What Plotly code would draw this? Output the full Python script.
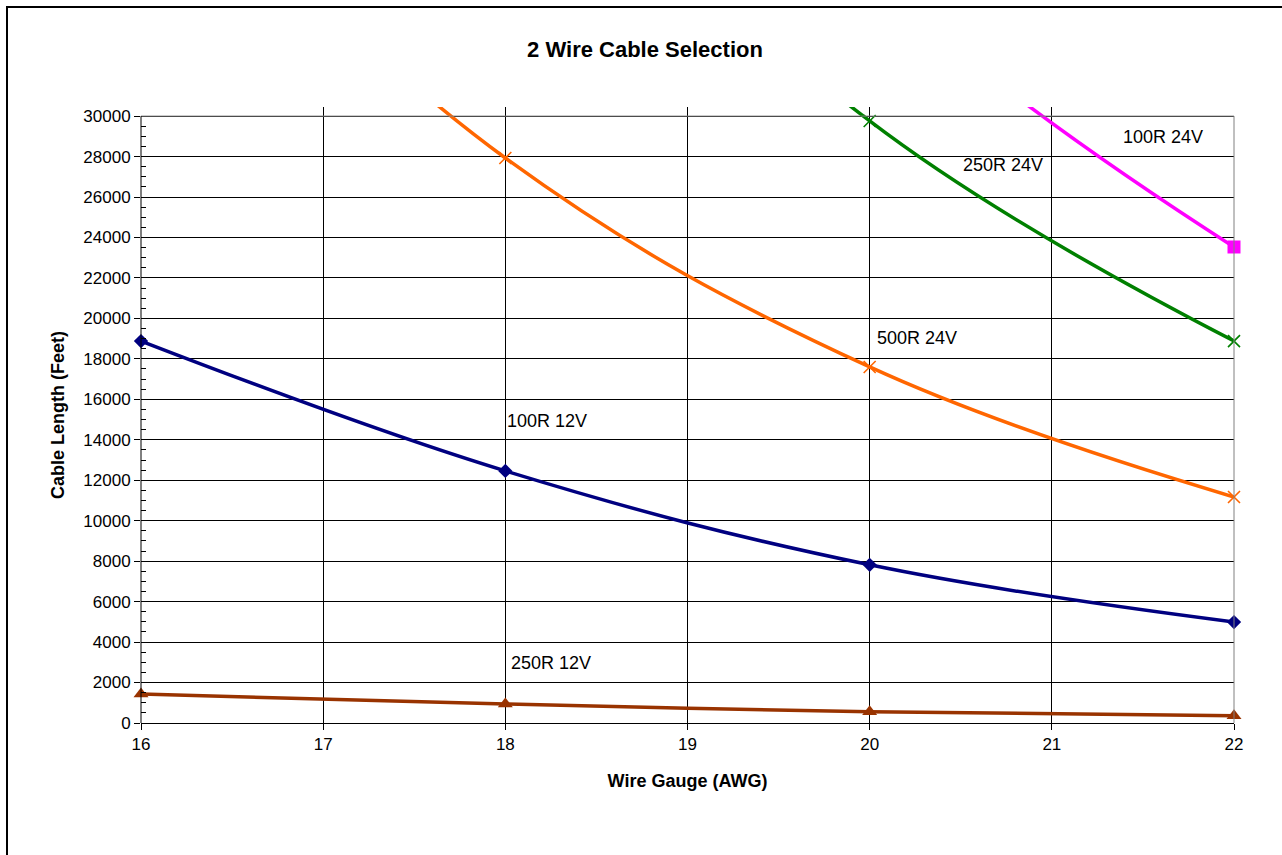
import plotly.graph_objects as go

# ---- data ----
gauge = [16, 18, 20, 22]
series_names = ["100R 12V", "250R 12V", "500R 24V", "250R 24V", "100R 24V"]
len_100r_12v = [18880, 12460, 7820, 4990]
len_250r_12v = [1430, 940, 560, 360]
len_500r_24v = [44300, 27930, 17600, 11170]
len_250r_24v = [74000, 46900, 29760, 18880]
len_100r_24v = [None, 58500, 37000, 23530]

x_ticks = [16, 17, 18, 19, 20, 21, 22]
y_ticks = list(range(0, 30001, 2000))
Y_MAX = 30000

W, H = 1282, 855
ML, MR, MT, MB = 141, 48, 107, 132
Y_TOP = 30450
FONT = "Liberation Sans, Arial, sans-serif"

pw = W - ML - MR
ph = H - MT - MB


def px_x(p):
    return (p - ML) / pw


def px_y(p):
    return (H - MB - p) / ph


styles = [
    dict(color="#000080", symbol="diamond", size=11, lw=0),
    dict(color="#993300", symbol="triangle-up", size=13, lw=0),
    dict(color="#FF6600", symbol="x-thin", size=12, lw=1.6),
    dict(color="#008000", symbol="x-thin", size=12, lw=1.6),
    dict(color="#FF00FF", symbol="square", size=13, lw=0),
]
values = [len_100r_12v, len_250r_12v, len_500r_24v, len_250r_24v, len_100r_24v]

fig = go.Figure()
for name, vals, st in zip(series_names, values, styles):
    # smoothed line (clipped to plot area)
    fig.add_trace(go.Scatter(
        x=gauge, y=vals, name=name, mode="lines",
        line=dict(color=st["color"], width=3.5, shape="spline", smoothing=1.1),
        connectgaps=False, hoverinfo="skip",
    ))
    # markers for points inside the visible range, not clipped at the frame
    mx = [g for g, v in zip(gauge, vals) if v is not None and v <= Y_MAX]
    my = [v for v in vals if v is not None and v <= Y_MAX]
    fig.add_trace(go.Scatter(
        x=mx, y=my, name=name, mode="markers",
        marker=dict(symbol=st["symbol"], size=st["size"], color=st["color"],
                    line=dict(color=st["color"], width=st["lw"])),
        cliponaxis=False,
    ))

labels = [
    ("100R 24V", 21.61, 28950),
    ("250R 24V", 20.73, 27600),
    ("500R 24V", 20.26, 19050),
    ("100R 12V", 18.23, 14950),
    ("250R 12V", 18.25, 2950),
]
annotations = [dict(x=x, y=y, xref="x", yref="y", text=t, showarrow=False,
                    font=dict(family=FONT, size=18, color="black"))
               for t, x, y in labels]

y30 = Y_MAX / Y_TOP

shapes = [
    # white cover above 30000 (between grid and traces)
    dict(type="rect", xref="paper", yref="paper", x0=-0.005, x1=1.005, y0=y30, y1=1.0,
         fillcolor="white", line=dict(width=0), layer="between"),
    # plot frame
    dict(type="line", xref="paper", yref="paper", x0=0, x1=1, y0=y30, y1=y30,
         line=dict(color="#808080", width=1)),
    dict(type="line", xref="paper", yref="paper", x0=1, x1=1, y0=0, y1=y30,
         line=dict(color="#808080", width=1)),
    dict(type="line", xref="paper", yref="paper", x0=0, x1=0, y0=0, y1=y30,
         line=dict(color="black", width=1)),
    # outer chart border (left & top visible)
    dict(type="line", xref="paper", yref="paper", x0=px_x(7), x1=px_x(7),
         y0=px_y(6), y1=px_y(900), line=dict(color="black", width=2)),
    dict(type="line", xref="paper", yref="paper", x0=px_x(6), x1=px_x(1300),
         y0=px_y(7), y1=px_y(7), line=dict(color="black", width=2)),
]

fig.update_layout(
    width=W, height=H,
    margin=dict(l=ML, r=MR, t=MT, b=MB),
    paper_bgcolor="white", plot_bgcolor="white",
    showlegend=False,
    font=dict(family=FONT, size=17, color="black"),
    title=dict(text="<b>2 Wire Cable Selection</b>", x=645 / W, xanchor="center",
               y=1 - 49 / H, yanchor="middle", yref="container",
               font=dict(family=FONT, size=22, color="black")),
    annotations=annotations,
    shapes=shapes,
)

fig.update_xaxes(
    range=[16, 22], tickvals=x_ticks, ticktext=[str(v) for v in x_ticks],
    showgrid=True, gridcolor="black", gridwidth=1,
    showline=True, linecolor="black", linewidth=1,
    ticks="outside", ticklen=6, tickcolor="black",
    tickfont=dict(family=FONT, size=17, color="black"),
    zeroline=False,
    title=dict(text="<b>Wire Gauge (AWG)</b>", standoff=20,
               font=dict(family=FONT, size=18, color="black")),
)
fig.update_yaxes(
    range=[0, Y_TOP], tickvals=y_ticks, ticktext=[str(v) for v in y_ticks],
    showgrid=True, gridcolor="black", gridwidth=1,
    showline=False,
    ticks="outside", ticklen=6, tickcolor="black",
    minor=dict(dtick=500, ticks="inside", ticklen=5, tickcolor="black", showgrid=False),
    tickfont=dict(family=FONT, size=17, color="black"),
    zeroline=False,
    title=dict(text="<b>Cable Length (Feet)</b>", standoff=14,
               font=dict(family=FONT, size=18, color="black")),
)

fig.write_html("out.html")
